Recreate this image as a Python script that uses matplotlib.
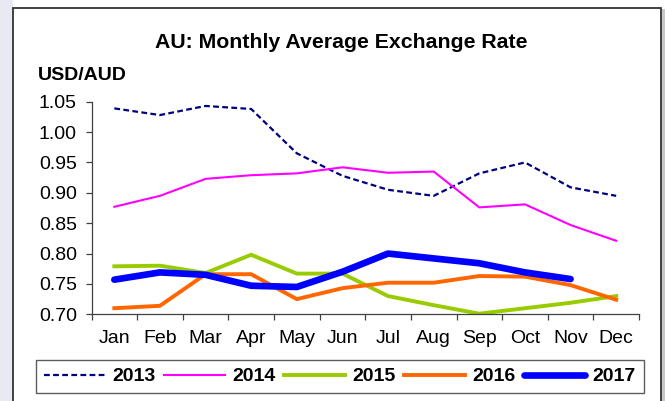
import matplotlib
matplotlib.use("Agg")
import matplotlib.pyplot as plt
from matplotlib.patches import Rectangle

plt.rcParams['font.family'] = ['Liberation Sans', 'DejaVu Sans']

months = ["Jan", "Feb", "Mar", "Apr", "May", "Jun",
          "Jul", "Aug", "Sep", "Oct", "Nov", "Dec"]

rate_2013 = [1.039, 1.028, 1.043, 1.038, 0.965, 0.928,
             0.905, 0.895, 0.932, 0.950, 0.909, 0.895]
rate_2014 = [0.877, 0.895, 0.923, 0.929, 0.932, 0.942,
             0.933, 0.935, 0.876, 0.881, 0.847, 0.821]
rate_2015 = [0.779, 0.780, 0.768, 0.798, 0.767, 0.767,
             0.730, 0.715, 0.701, 0.710, 0.719, 0.730]
rate_2016 = [0.710, 0.714, 0.766, 0.766, 0.725, 0.743,
             0.752, 0.752, 0.763, 0.762, 0.748, 0.724]
rate_2017 = [0.757, 0.769, 0.765, 0.747, 0.745, 0.770,
             0.800, 0.792, 0.784, 0.769, 0.758]

y_ticks = [0.70, 0.75, 0.80, 0.85, 0.90, 0.95, 1.00, 1.05]

W, H = 665, 401
fig = plt.figure(figsize=(W / 100, H / 100), dpi=100)
fig.patch.set_facecolor("white")

# light side strip and outer frame
fig.patches.append(Rectangle((0, 0), 12.5 / W, 1, transform=fig.transFigure,
                             facecolor="#e9e9f3", edgecolor="none", zorder=-10))
fig.patches.append(Rectangle((662 / W, 0), 3 / W, 1 - 9 / H, transform=fig.transFigure,
                             facecolor="#c8c8c8", edgecolor="none", zorder=-10))
fig.patches.append(Rectangle((12.5 / W, -0.02), 648.5 / W, 1.02 - 8 / H,
                             transform=fig.transFigure, facecolor="white",
                             edgecolor="#333333", linewidth=1.3, zorder=-10))

left, right, top, bottom = 91.5, 639, 101.7, 314.3
ax = fig.add_axes([left / W, 1 - bottom / H, (right - left) / W, (bottom - top) / H])
ax.set_facecolor("none")
ax.set_zorder(2)

x = list(range(12))
ax.plot(x, rate_2013, color="#000080", linewidth=1.6, dashes=(2.6, 1.5), label="2013")
ax.plot(x, rate_2014, color="#ff00ff", linewidth=1.5, label="2014")
ax.plot(x, rate_2015, color="#99cc00", linewidth=2.8, label="2015")
ax.plot(x, rate_2016, color="#ff6600", linewidth=2.8, label="2016")
ax.plot(x[:len(rate_2017)], rate_2017, color="#0000ff", linewidth=4.8,
        solid_capstyle="round", label="2017")

ax.set_xlim(-0.5, 11.5)
ax.set_ylim(0.70, 1.05)
ax.set_yticks(y_ticks)
ax.set_yticklabels([f"{v:.2f}" for v in y_ticks])
ax.set_xticks(x)
ax.set_xticklabels(months)
ax.set_xticks([i - 0.5 for i in range(13)], minor=True)

for s in ("top", "right"):
    ax.spines[s].set_visible(False)
for s in ("left", "bottom"):
    ax.spines[s].set_color("#404040")
    ax.spines[s].set_linewidth(0.9)

ax.tick_params(axis="x", which="major", length=0, pad=11, labelsize=14)
ax.tick_params(axis="x", which="minor", length=4.5, width=0.9, color="#404040",
               direction="out")
ax.tick_params(axis="y", length=4.5, width=0.9, color="#404040", pad=6, labelsize=14)

fig.text(341 / W, 1 - 43 / H, "AU: Monthly Average Exchange Rate",
         ha="center", va="center", fontsize=15.3, fontweight="bold")
fig.text(38 / W, 1 - 75 / H, "USD/AUD", ha="left", va="center",
         fontsize=14, fontweight="bold")

leg = fig.legend(loc="center", bbox_to_anchor=(340 / W, 1 - 376.5 / H), ncol=5,
                 frameon=True, fancybox=False, handlelength=3.1, handletextpad=0.4,
                 columnspacing=0.45, borderpad=0.4, borderaxespad=0,
                 prop={"weight": "bold", "size": 14})
leg.get_frame().set_edgecolor("#333333")
leg.get_frame().set_linewidth(1.0)

fig.savefig("out.png", dpi=100)
